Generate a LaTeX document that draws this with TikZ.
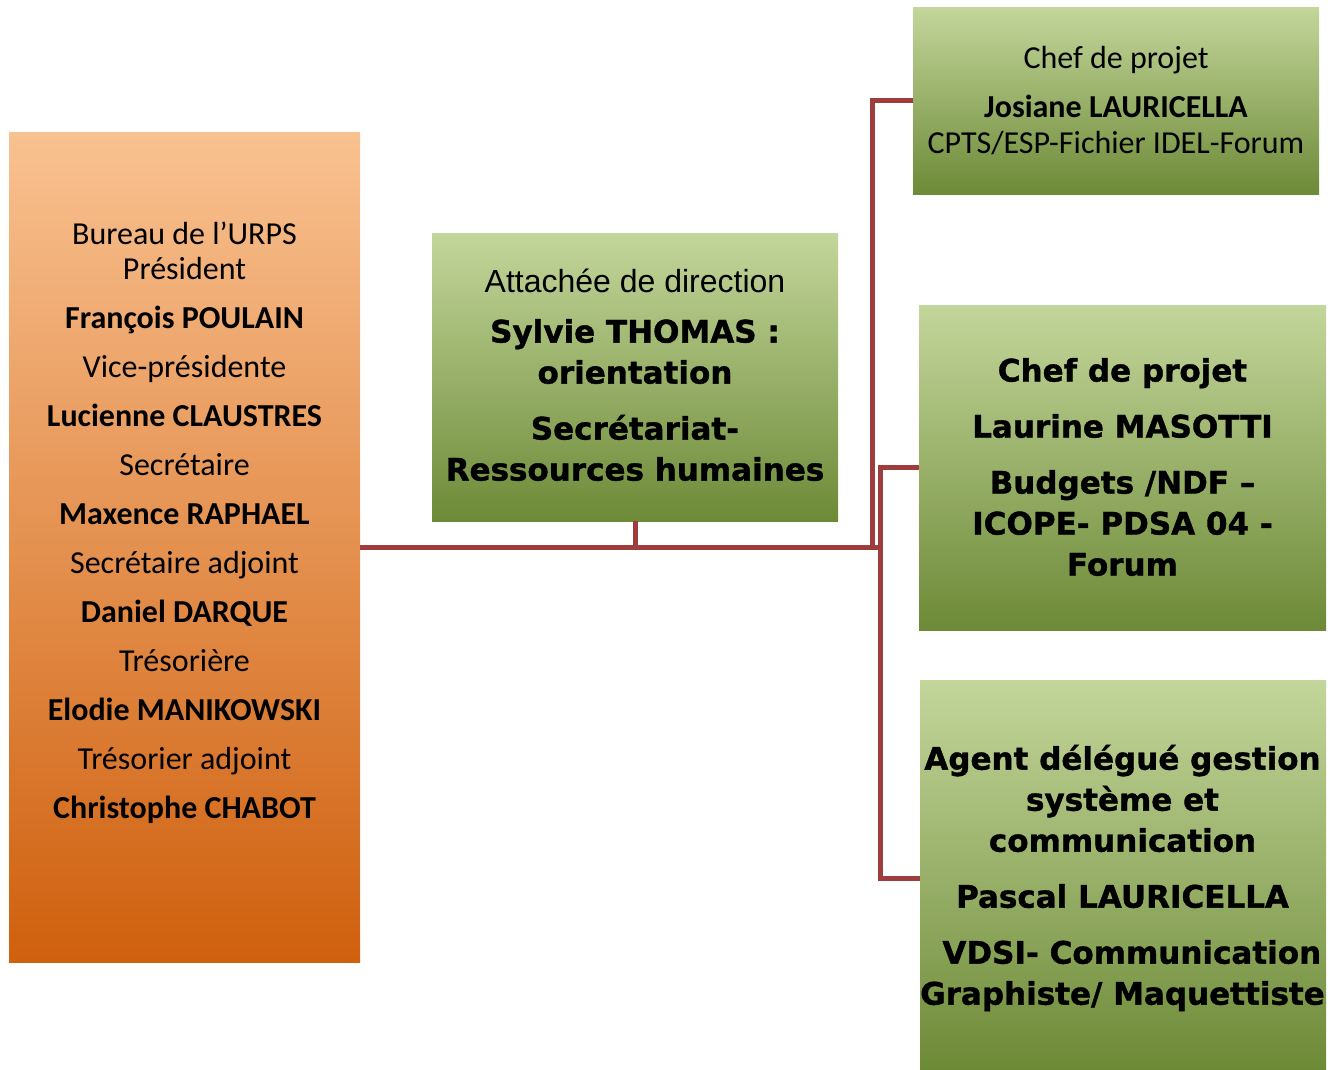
\documentclass[tikz,border=0pt]{standalone}
\usepackage{fontspec}
\setmainfont{Carlito}
\newfontfamily\calfam{Carlito}
\newfontfamily\arialfam{Liberation Sans}
\newfontfamily\heavyfam{DejaVu Sans}[BoldFeatures={FakeBold=1.2}]
\newcommand\hvy{\heavyfam\bfseries}
\definecolor{gtop}{HTML}{C3D69B}
\definecolor{gmid}{HTML}{9DBC5B}
\definecolor{gbot}{HTML}{6D8A37}
\definecolor{otop}{HTML}{F9C190}
\definecolor{omid}{HTML}{F59B4E}
\definecolor{obot}{HTML}{CF600E}
\definecolor{linkc}{HTML}{9E3D3D}
\tikzset{
  greenbox/.style={draw=none, inner sep=0pt, top color=gtop, middle color=gmid, bottom color=gbot},
  orangebox/.style={draw=none, inner sep=0pt, top color=otop, middle color=omid, bottom color=obot},
  txt/.style={align=center, inner sep=0pt, text=black},
  link/.style={draw=linkc, line width=5pt, line join=miter}
}
\begin{document}
\begin{tikzpicture}[x=1pt,y=-1pt]
\useasboundingbox (0,0) rectangle (1341,1070);
% boxes
\node[orangebox, minimum width=351pt, minimum height=829pt] (L) at (184.5,547.5) {};
\node[greenbox, minimum width=406pt, minimum height=288pt] (C) at (635,377) {};
\node[greenbox, minimum width=406pt, minimum height=186pt] (T) at (1116,101) {};
\node[greenbox, minimum width=407pt, minimum height=325pt] (M) at (1122.5,467.5) {};
\node[greenbox, minimum width=406pt, minimum height=390pt] (B) at (1123,875) {};
% connectors
\coordinate (j1) at (872,101);
\coordinate (j2) at (880,467.5);
\coordinate (j3) at (880,878);
\draw[link] (C.south) -- (C.south |- L.east);
\draw[link] (L.east) -| (j1) -- (T.west);
\draw[link] (L.east) -| (j2) -- (M.west);
\draw[link] (L.east) -| (j3) -- (B.west |- j3);
% texts
\node[txt, font=\calfam\fontsize{32}{35}\selectfont] (Lt) at (184.5,523) {%
Bureau de l’URPS\\Président\\[14pt]
\textbf{François POULAIN}\\[14pt]
Vice-présidente\\[14pt]
\textbf{Lucienne CLAUSTRES}\\[14pt]
Secrétaire\\[14pt]
\textbf{Maxence RAPHAEL}\\[14pt]
Secrétaire adjoint\\[14pt]
\textbf{Daniel DARQUE}\\[14pt]
Trésorière\\[14pt]
\textbf{Elodie MANIKOWSKI}\\[14pt]
Trésorier adjoint\\[14pt]
\textbf{Christophe CHABOT}};
\node[txt, font=\fontsize{31}{41}\selectfont] (Ct) at (635,375) {%
{\arialfam\fontsize{32}{41}\selectfont Attachée de direction}\\[9pt]
{\hvy Sylvie THOMAS :}\\
{\hvy orientation}\\[15pt]
{\hvy Secrétariat-}\\
{\hvy Ressources humaines}};
\node[txt, font=\calfam\fontsize{32}{36}\selectfont] (Tt) at (1116,100.5) {%
Chef de projet\\[13pt]
\textbf{Josiane LAURICELLA}\\
CPTS/ESP-Fichier IDEL-Forum};
\node[txt, font=\hvy\fontsize{31}{41}\selectfont] (Mt) at (1122.5,467) {%
Chef de projet\\[15pt]
Laurine MASOTTI\\[15pt]
Budgets /NDF –\\
ICOPE- PDSA 04 -\\
Forum};
\node[txt, font=\hvy\fontsize{31}{41}\selectfont] (Bt) at (1122.5,878) {%
Agent délégué gestion\\
système et\\
communication\\[15pt]
Pascal LAURICELLA\\[15pt]
\hspace*{0.6em}VDSI- Communication\\
Graphiste/ Maquettiste};
\end{tikzpicture}
\end{document}
